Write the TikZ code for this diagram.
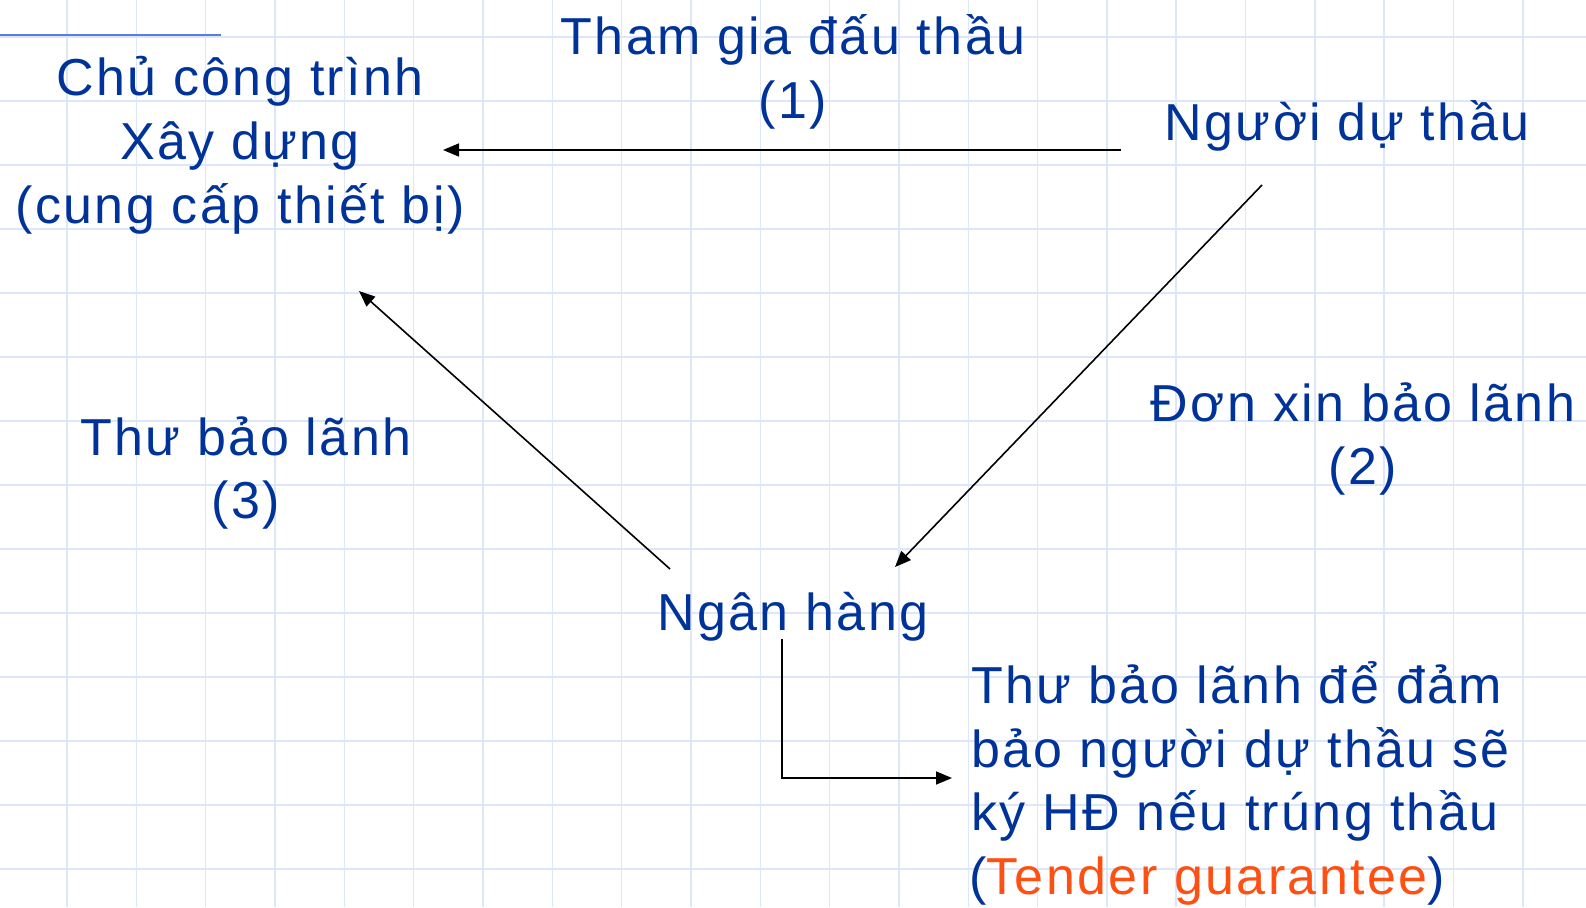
\documentclass[tikz,border=0pt]{standalone}
\usepackage{fontspec}
\setmainfont{Liberation Sans}
\newfontfamily\lblfont[LetterSpace=4.6]{Liberation Sans}
\usetikzlibrary{arrows.meta}
\definecolor{txtblue}{RGB}{0,51,153}
\definecolor{gridblue}{RGB}{222,230,250}
\definecolor{topline}{RGB}{90,123,224}
\definecolor{orng}{RGB}{255,80,20}
\begin{document}
\begin{tikzpicture}[x=1pt,y=-1pt,
  gridline/.style={draw=gridblue,line width=1.6pt},
  lbl/.style={text=txtblue,inner sep=0pt,font=\lblfont\fontsize{52}{64}\selectfont},
  arr/.style={-{Triangle[length=16pt,width=13pt]},line width=1.6pt,draw=black}]
\useasboundingbox[fill=white] (0,0) rectangle (1586,907);
% grid
\foreach \i in {0,...,21} \draw[gridline] ({67+69.33*\i},0) -- ({67+69.33*\i},907);
\foreach \j in {0,...,13} \draw[gridline] (0,{37+64*\j}) -- (1586,{37+64*\j});
% top-left line
\coordinate (tl1) at (0,35);
\coordinate (tl2) at (221,35);
\draw[topline,line width=2pt] (tl1) -- (tl2);
% texts
\node[lbl,anchor=base] (chu1) at (240,95) {Chủ công trình};
\node[lbl,anchor=base] (chu2) at (240,159) {Xây dựng};
\node[lbl,anchor=base] (chu3) at (240,223) {(cung cấp thiết bị)};
\node[lbl,anchor=base] (tham1) at (793,55) {Tham gia đấu thầu};
\node[lbl,anchor=base] (tham2) at (793,118) {(1)};
\node[lbl,anchor=base] (nguoi) at (1347,140) {Người dự thầu};
\node[lbl,anchor=base] (don1) at (1363,421) {Đơn xin bảo lãnh};
\node[lbl,anchor=base] (don2) at (1363,484) {(2)};
\node[lbl,anchor=base] (thu1) at (246,455) {Thư bảo lãnh};
\node[lbl,anchor=base] (thu2) at (246,518) {(3)};
\node[lbl,anchor=base] (ngan) at (793,630) {Ngân hàng};
\node[lbl,anchor=base west] (tb1) at (971,703) {Thư bảo lãnh để đảm};
\node[lbl,anchor=base west] (tb2) at (971,767) {bảo người dự thầu sẽ};
\node[lbl,anchor=base west] (tb3) at (971,830) {ký HĐ nếu trúng thầu};
\node[lbl,anchor=base west] (tb4) at (969,894) {(\textcolor{orng}{Tender guarantee})};
% arrow end points
\coordinate (a1s) at (1121,150);
\coordinate (a1e) at (443,150);
\coordinate (a2s) at (1262,185);
\coordinate (a2e) at (895,567);
\coordinate (a3s) at (670,569);
\coordinate (a3e) at (359,291);
\coordinate (a4s) at (782,639);
\coordinate (a4e) at (952,778);
\draw[arr] (a1s) -- (a1e);
\draw[arr] (a2s) -- (a2e);
\draw[arr] (a3s) -- (a3e);
\draw[arr] (a4s) |- (a4e);
\end{tikzpicture}
\end{document}
